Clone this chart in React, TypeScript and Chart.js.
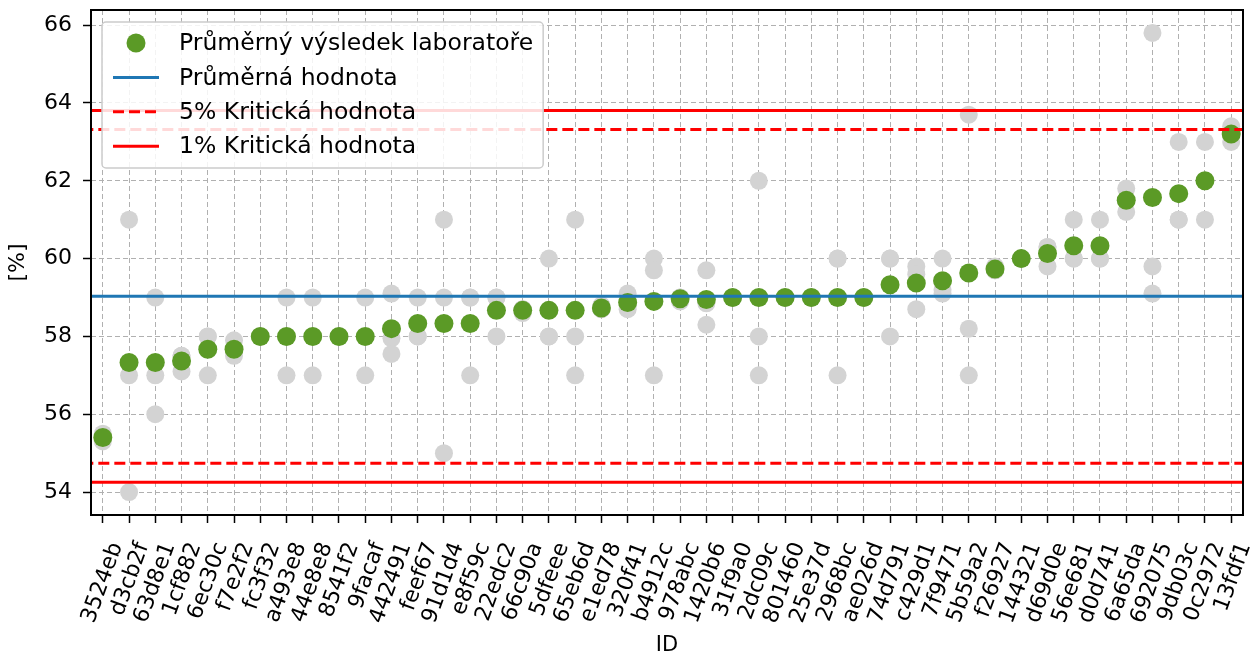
import React, { useEffect, useRef } from "react";
import { Chart, registerables } from "chart.js";

Chart.register(...registerables);

// ---- Data ----
const labIds = [
  "3524eb", "d3cb2f", "63d8e1", "1cf882", "6ec30c", "f7e2f2", "fc3f32", "a493e8", "44e8e8", "8541f2",
  "9facaf", "442491", "feef67", "91d1d4", "e8f59c", "22edc2", "66c90a", "5dfeee", "65eb6d", "e1ed78",
  "320f41", "b4912c", "978abc", "1420b6", "31f9a0", "2dc09c", "801460", "25e37d", "2968bc", "ae026d",
  "74d791", "c429d1", "7f9471", "5b59a2", "f26927", "144321", "d69d0e", "56e681", "d0d741", "6a65da",
  "692075", "9db03c", "0c2972", "13fdf1",
];

const labMeans = [
  55.4, 57.33, 57.33, 57.37, 57.67, 57.67, 58, 58, 58, 58,
  58, 58.2, 58.33, 58.33, 58.33, 58.67, 58.67, 58.67, 58.67, 58.73,
  58.87, 58.9, 58.97, 58.95, 59, 59, 59, 59, 59, 59,
  59.33, 59.37, 59.43, 59.63, 59.73, 60, 60.13, 60.33, 60.33, 61.5,
  61.57, 61.67, 62, 63.2,
];

const result1 = [
  55.3, 61, 59, 57.5, 58, 57.9, 58, 59, 59, 58,
  59, 59.1, 59, 61, 59, 59, 58.6, 60, 61, 58.7,
  59.1, 60, 59, 59.7, 59, 62, 59, 59, 60, 59,
  60, 59.8, 60, 63.7, 59.8, 60, 60.3, 61, 61, 61.8,
  65.8, 63, 63, 63.4,
];
const result2 = [
  55.4, 57, 57, 57.1, 58, 57.6, 58, 57, 57, 58,
  57, 57.95, 58, 59, 59, 59, 58.7, 58, 58, 58.8,
  58.8, 59.7, 58.9, 58.3, 59, 58, 59, 59, 57, 59,
  60, 59.6, 59.1, 58.2, 59.7, 60, 59.8, 60, 60, 61.2,
  59.8, 61, 61, 63.2,
];
const result3 = [
  55.5, 54, 56, 57.5, 57, 57.5, 58, 58, 58, 58,
  58, 57.55, 58, 55, 57, 58, 58.7, 58, 57, 58.7,
  58.7, 57, 59, 58.85, 59, 57, 59, 59, 60, 59,
  58, 58.7, 59.2, 57, 59.7, 60, 60.3, 60, 60, 61.5,
  59.1, 61, 62, 63.0,
];

const overallMean = 59.03;
const critical5 = [54.74, 63.32];
const critical1 = [54.25, 63.81];

const yTicks = [54, 56, 58, 60, 62, 64, 66];

const legendLabels = [
  "Průměrný výsledek laboratoře",
  "Průměrná hodnota",
  "5% Kritická hodnota",
  "1% Kritická hodnota",
];

const xTitle = "ID";
const yTitle = "[%]";

// ---- Styles ----
const GREEN = "#5b9a26";
const GRAY = "#d3d3d3";
const BLUE = "#1f77b4";
const RED = "#ff0000";
const FONT = '"DejaVu Sans", sans-serif';

const hLine = (y: number) => [
  { x: -2, y },
  { x: labIds.length + 1, y },
];

const framePlugin = {
  id: "frame",
  afterDatasetsDraw(chart: any) {
    const { ctx, chartArea: ca } = chart;
    ctx.save();
    ctx.strokeStyle = "#000";
    ctx.lineWidth = 2;
    ctx.strokeRect(ca.left, ca.top, ca.right - ca.left, ca.bottom - ca.top);
    ctx.restore();
  },
};

const boxLegendPlugin = {
  id: "boxLegend",
  afterDraw(chart: any) {
    const { ctx, chartArea: ca } = chart;
    const x0 = ca.left + 11;
    const y0 = ca.top + 12;
    ctx.save();
    ctx.font = `23.5px ${FONT}`;
    const textOffset = 77;
    const maxW = Math.max(...legendLabels.map((t) => ctx.measureText(t).width));
    const w = textOffset + maxW + 10;
    const rowH = 34.4;
    const h = 146;
    const r = 4;
    ctx.beginPath();
    ctx.moveTo(x0 + r, y0);
    ctx.lineTo(x0 + w - r, y0);
    ctx.arcTo(x0 + w, y0, x0 + w, y0 + r, r);
    ctx.lineTo(x0 + w, y0 + h - r);
    ctx.arcTo(x0 + w, y0 + h, x0 + w - r, y0 + h, r);
    ctx.lineTo(x0 + r, y0 + h);
    ctx.arcTo(x0, y0 + h, x0, y0 + h - r, r);
    ctx.lineTo(x0, y0 + r);
    ctx.arcTo(x0, y0, x0 + r, y0, r);
    ctx.closePath();
    ctx.fillStyle = "rgba(255,255,255,0.85)";
    ctx.fill();
    ctx.strokeStyle = "#cccccc";
    ctx.lineWidth = 1.5;
    ctx.stroke();

    const mx1 = x0 + 11;
    const mx2 = x0 + 57;
    legendLabels.forEach((label, i) => {
      const cy = y0 + 21 + i * rowH;
      if (i === 0) {
        ctx.beginPath();
        ctx.arc((mx1 + mx2) / 2, cy, 9.5, 0, Math.PI * 2);
        ctx.fillStyle = GREEN;
        ctx.fill();
      } else {
        ctx.beginPath();
        ctx.strokeStyle = i === 1 ? BLUE : RED;
        ctx.lineWidth = 3;
        ctx.setLineDash(i === 2 ? [11, 5] : []);
        ctx.moveTo(mx1, cy);
        ctx.lineTo(mx2, cy);
        ctx.stroke();
        ctx.setLineDash([]);
      }
      ctx.fillStyle = "#000";
      ctx.textBaseline = "middle";
      ctx.textAlign = "left";
      ctx.fillText(label, x0 + textOffset, cy + 1);
    });
    ctx.restore();
  },
};

export default function App() {
  const canvasRef = useRef<HTMLCanvasElement | null>(null);

  useEffect(() => {
    document.body.style.margin = "0";
    document.body.style.overflow = "hidden";
    const canvas = canvasRef.current;
    if (!canvas) return;

    const grayPoints = labIds.flatMap((_, i) =>
      [result1[i], result2[i], result3[i]].map((y) => ({ x: i, y }))
    );
    const meanPoints = labMeans.map((y, i) => ({ x: i, y }));

    const chart = new Chart(canvas, {
      type: "scatter",
      data: {
        datasets: [
          {
            label: "results",
            data: grayPoints,
            backgroundColor: GRAY,
            borderWidth: 0,
            pointRadius: 9,
            pointHoverRadius: 9,
            order: 10,
          },
          {
            label: legendLabels[0],
            data: meanPoints,
            backgroundColor: GREEN,
            borderWidth: 0,
            pointRadius: 9.5,
            pointHoverRadius: 9.5,
            order: 9,
          },
          {
            label: legendLabels[1],
            data: hLine(overallMean),
            showLine: true,
            borderColor: BLUE,
            borderWidth: 3,
            pointRadius: 0,
            order: 3,
          },
          {
            label: legendLabels[2],
            data: hLine(critical5[0]),
            showLine: true,
            borderColor: RED,
            borderWidth: 3,
            borderDash: [11, 5],
            pointRadius: 0,
            order: 2,
          },
          {
            label: legendLabels[2] + " upper",
            data: hLine(critical5[1]),
            showLine: true,
            borderColor: RED,
            borderWidth: 3,
            borderDash: [11, 5],
            pointRadius: 0,
            order: 2,
          },
          {
            label: legendLabels[3],
            data: hLine(critical1[0]),
            showLine: true,
            borderColor: RED,
            borderWidth: 3,
            pointRadius: 0,
            order: 1,
          },
          {
            label: legendLabels[3] + " upper",
            data: hLine(critical1[1]),
            showLine: true,
            borderColor: RED,
            borderWidth: 3,
            pointRadius: 0,
            order: 1,
          },
        ],
      },
      options: {
        responsive: false,
        animation: false,
        devicePixelRatio: 1,
        layout: { padding: { top: 10, right: 15, left: 0, bottom: 0 } },
        plugins: {
          legend: { display: false },
          tooltip: { enabled: false },
        },
        scales: {
          x: {
            type: "linear",
            min: -0.45,
            max: labIds.length - 1 + 0.45,
            afterBuildTicks: (scale: any) => {
              scale.ticks = labIds.map((_, i) => ({ value: i }));
            },
            afterFit: (scale: any) => {
              scale.height = 145;
              scale.paddingLeft = 0;
              scale.paddingRight = 0;
            },
            ticks: {
              autoSkip: false,
              minRotation: 70,
              maxRotation: 70,
              padding: 16,
              labelOffset: 14,
              color: "#000",
              font: { family: FONT, size: 22 },
              callback: (value: any) => labIds[Math.round(Number(value))],
            },
            grid: {
              color: "#b0b0b0",
              lineWidth: 1,
              drawTicks: true,
              tickLength: 8,
              tickColor: "#000",
              tickWidth: 1.5,
              tickBorderDash: [],
            },
            border: { display: false, dash: [5, 3] },
            title: {
              display: true,
              text: xTitle,
              color: "#000",
              font: { family: FONT, size: 21 },
              padding: { top: 0, bottom: 2 },
            },
          },
          y: {
            type: "linear",
            min: 53.41,
            max: 66.39,
            afterBuildTicks: (scale: any) => {
              scale.ticks = yTicks.map((v) => ({ value: v }));
            },
            afterFit: (scale: any) => {
              scale.width = 91;
              scale.paddingTop = 0;
              scale.paddingBottom = 0;
            },
            ticks: {
              padding: 11,
              color: "#000",
              font: { family: FONT, size: 22 },
              callback: (value: any) => String(value),
            },
            grid: {
              color: "#b0b0b0",
              lineWidth: 1,
              drawTicks: true,
              tickLength: 8,
              tickColor: "#000",
              tickWidth: 1.5,
              tickBorderDash: [],
            },
            border: { display: false, dash: [5, 3] },
            title: {
              display: true,
              text: yTitle,
              color: "#000",
              font: { family: FONT, size: 22 },
              padding: { top: 5, bottom: 0 },
            },
          },
        },
      },
      plugins: [framePlugin, boxLegendPlugin],
    } as any);

    return () => {
      chart.destroy();
    };
  }, []);

  return (
    <div style={{ width: 1258, height: 660 }}>
      <canvas ref={canvasRef} width={1258} height={660} style={{ display: "block", width: 1258, height: 660 }} />
    </div>
  );
}
